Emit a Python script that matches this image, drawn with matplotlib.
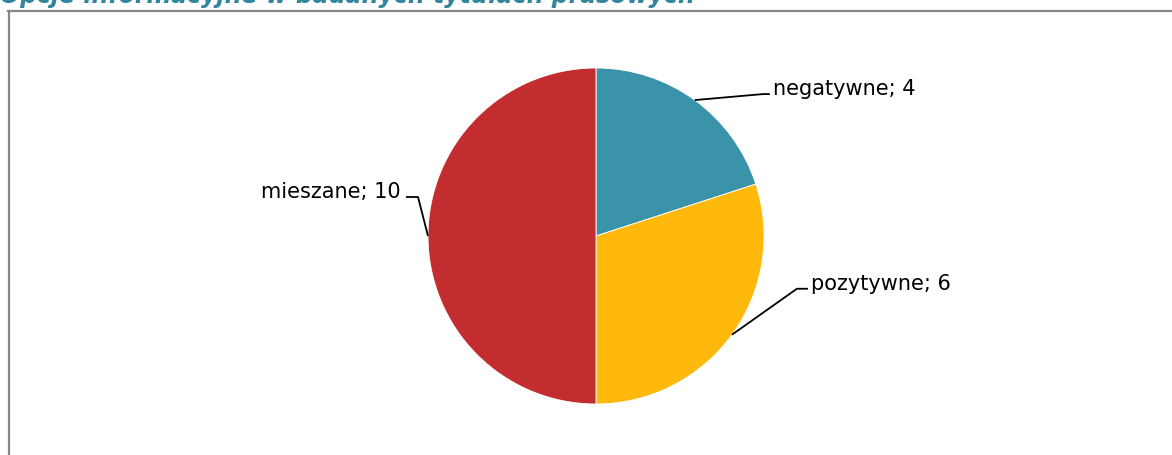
import numpy as np
import matplotlib.pyplot as plt

# opinion counts
labels = ['negatywne', 'pozytywne', 'mieszane']
counts = [4, 6, 10]
colors = ['#3A93A8', '#FFB80C', '#C42D2F']
title = 'Opcje informacyjne w badanych tytułach prasowych'

W, H = 1172, 455
fig = plt.figure(figsize=(W / 100, H / 100), dpi=100)
ax = fig.add_axes([0, 0, 1, 1])

cx, cy, r = 596, H - 236, 168
wedges, _ = ax.pie(counts, colors=colors, startangle=90, counterclock=False,
                   center=(cx, cy), radius=r,
                   wedgeprops=dict(edgecolor='white', linewidth=0.6))

ax.set_xlim(0, W)
ax.set_ylim(0, H)
ax.set_aspect('equal')
ax.axis('off')

# leader lines: (elbow dx, elbow dy, tail length, text side) per slice
leaders = [(68, 6, 7, 'left'), (65, 46, 11, 'left'), (-10, 39, -12, 'right')]
for w, lab, n, (ex, ey, tail, side) in zip(wedges, labels, counts, leaders):
    ang = np.deg2rad((w.theta1 + w.theta2) / 2)
    px, py = cx + r * np.cos(ang), cy + r * np.sin(ang)
    bx, by = px + ex, py + ey
    tx = bx + tail
    ax.plot([px, bx, tx], [py, by, by], color='black', lw=1.3,
            solid_capstyle='butt')
    if side == 'left':
        ax.text(tx + 3, by + 5, f'{lab}; {n}', ha='left', va='center',
                fontsize=15, family='DejaVu Sans')
    else:
        ax.text(tx - 5, by + 5, f'{lab}; {n}', ha='right', va='center',
                fontsize=15, family='DejaVu Sans')

# chart area frame, cut off on the right and bottom
ax.plot([8.5, 8.5], [-5, H - 11], color='#878787', lw=1.6, clip_on=False)
ax.plot([8, W + 5], [H - 11, H - 11], color='#878787', lw=1.6, clip_on=False)

# heading sits mostly above the top edge
ax.text(0, H - 3, title, ha='left', va='baseline', fontsize=17,
        fontweight='bold', fontstyle='italic', color='#31859C',
        family='DejaVu Sans', clip_on=False)

fig.savefig('out.png', dpi=100)
